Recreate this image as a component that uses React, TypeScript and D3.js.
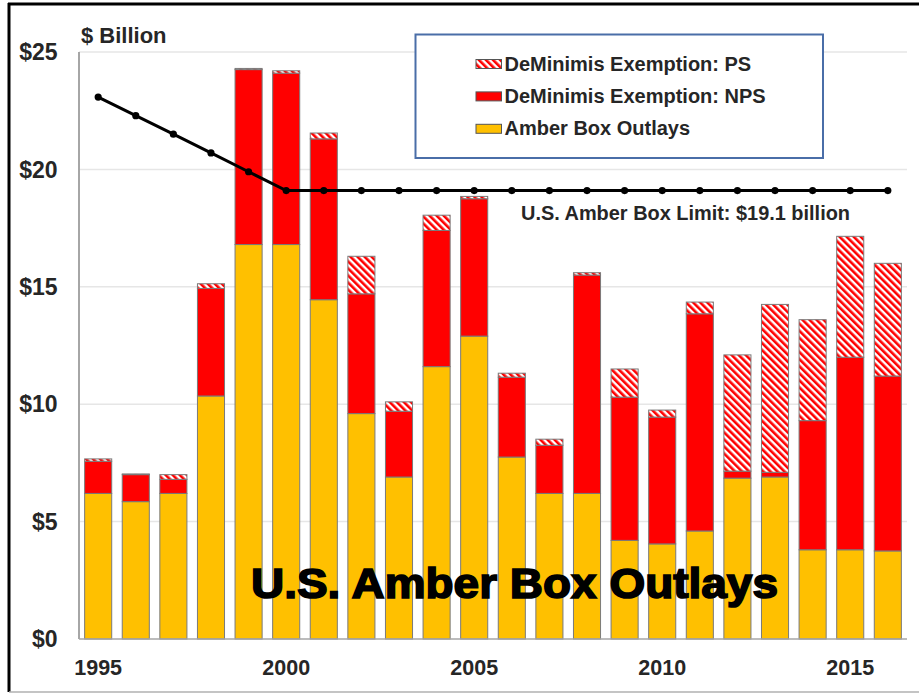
import React from "react";
import * as d3 from "d3";

const years = [1995,1996,1997,1998,1999,2000,2001,2002,2003,2004,2005,2006,2007,2008,2009,2010,2011,2012,2013,2014,2015,2016];
const amberOutlays = [6.2,5.85,6.2,10.35,16.8,16.8,14.45,9.6,6.9,11.6,12.9,7.75,6.2,6.2,4.2,4.05,4.6,6.85,6.9,3.8,3.8,3.75];
const deMinimisNPS = [1.37,1.15,0.6,4.58,7.45,7.3,6.85,5.1,2.8,5.8,5.85,3.4,2.05,9.3,6.1,5.4,9.25,0.3,0.2,5.5,8.2,7.45];
const deMinimisPS = [0.1,0.03,0.2,0.2,0.05,0.1,0.25,1.6,0.4,0.65,0.1,0.17,0.26,0.1,1.2,0.3,0.5,4.95,7.15,4.3,5.15,4.8];
const amberLimit = [23.08,22.29,21.5,20.7,19.9,19.1,19.1,19.1,19.1,19.1,19.1,19.1,19.1,19.1,19.1,19.1,19.1,19.1,19.1,19.1,19.1,19.1];
const yTicks = [0,5,10,15,20,25];
const xTickYears = [1995,2000,2005,2010,2015];
const legendLabels = ["DeMinimis Exemption: PS","DeMinimis Exemption: NPS","Amber Box Outlays"];

export default function App() {
  const W = 919, H = 694;
  const left = 79, right = 907, top = 52, bottom = 639;
  const x = d3.scaleBand<number>().domain(years).range([left, right]).paddingInner(0.28).paddingOuter(0.15);
  const y = d3.scaleLinear().domain([0, 25]).range([bottom, top]);
  const rows = years.map((yr, i) => ({ year: yr, amber: amberOutlays[i], nps: deMinimisNPS[i], ps: deMinimisPS[i] }));
  const keys = ["amber", "nps", "ps"];
  const stacked = d3.stack<any>().keys(keys)(rows);
  const fills: Record<string, string> = { amber: "#FFC000", nps: "#FF0000", ps: "url(#psPattern)" };
  const line = d3.line<number>().x((_, i) => (x(years[i]) as number) + x.bandwidth() / 2).y(d => y(d));
  const font = "'Liberation Sans', Arial, sans-serif";
  const legendFills = ["url(#psPatternL)", "#FF0000", "#FFC000"];

  return (
    <svg width={W} height={H} style={{ position: "absolute", left: 0, top: 0, background: "#fff" }} fontFamily={font}>
      <defs>
        <pattern id="psPattern" patternUnits="userSpaceOnUse" width="5" height="5" patternTransform="rotate(-45)">
          <rect width="5" height="5" fill="#fff" />
          <rect width="2.6" height="5" fill="#FF0000" />
        </pattern>
        <pattern id="psPatternL" patternUnits="userSpaceOnUse" width="5" height="5" patternTransform="rotate(-45)">
          <rect width="5" height="5" fill="#fff" />
          <rect width="2.6" height="5" fill="#FF0000" />
        </pattern>
      </defs>
      <rect width={W} height={H} fill="#fff" />
      {/* frame */}
      <line x1={8} x2={W} y1={4} y2={4} stroke="#000" strokeWidth={3} />
      <line x1={9} x2={9} y1={3} y2={692} stroke="#000" strokeWidth={3} />
      <line x1={9} x2={W} y1={692} y2={692} stroke="#b0b0b0" strokeWidth={1.5} />
      {/* gridlines */}
      {yTicks.filter(t => t > 0).map(t => (
        <line key={t} x1={left} x2={right} y1={y(t)} y2={y(t)} stroke="#e6e6e6" strokeWidth={1.5} />
      ))}
      {/* bars */}
      {stacked.map(layer => (
        <g key={layer.key}>
          {layer.map((d, i) => (
            <rect key={i} x={x(years[i])} width={x.bandwidth()} y={y(d[1])} height={Math.max(0, y(d[0]) - y(d[1]))}
              fill={fills[layer.key]} stroke="#7a7a7a" strokeWidth={1} />
          ))}
        </g>
      ))}
      {/* axes */}
      <line x1={left} x2={left} y1={top} y2={bottom} stroke="#a6a6a6" strokeWidth={2} />
      <line x1={left} x2={right} y1={bottom} y2={bottom} stroke="#a6a6a6" strokeWidth={1.5} />
      {yTicks.map(t => (
        <text key={t} x={57.5} y={y(t)} dy="0.36em" textAnchor="end" fontSize={23} fontWeight="bold" fill="#262626">{`$${t}`}</text>
      ))}
      {xTickYears.map(yr => (
        <text key={yr} x={(x(yr) as number) + x.bandwidth() / 2} y={675} textAnchor="middle" fontSize={21.5} fontWeight="bold" fill="#262626">{yr}</text>
      ))}
      <text x={81} y={42.5} fontSize={22} fontWeight="bold" fill="#262626">$ Billion</text>
      {/* limit line */}
      <path d={line(amberLimit) || ""} fill="none" stroke="#000" strokeWidth={3} />
      {amberLimit.map((v, i) => (
        <circle key={i} cx={(x(years[i]) as number) + x.bandwidth() / 2} cy={y(v)} r={3.6} fill="#000" />
      ))}
      <text x={521} y={220} fontSize={20} fontWeight="bold" fill="#262626" textLength={329} lengthAdjust="spacingAndGlyphs">U.S. Amber Box Limit: $19.1 billion</text>
      {/* legend */}
      <rect x={415.5} y={34.5} width={407.5} height={123.5} fill="#fff" stroke="#4a6ea8" strokeWidth={2} />
      {legendLabels.map((lab, i) => (
        <g key={lab}>
          <rect x={476} y={59.5 + i * 32.4} width={25.5} height={9} fill={legendFills[i]} stroke="#555" strokeWidth={1} />
          <text x={504.5} y={70.5 + i * 32.4} fontSize={20} fontWeight="bold" fill="#262626">{lab}</text>
        </g>
      ))}
      {/* big title */}
      <text x={251} y={598} fontSize={42} fontWeight="bold" fill="#000" stroke="#000" strokeWidth={1.6} textLength={527} lengthAdjust="spacingAndGlyphs">U.S. Amber Box Outlays</text>
    </svg>
  );
}
